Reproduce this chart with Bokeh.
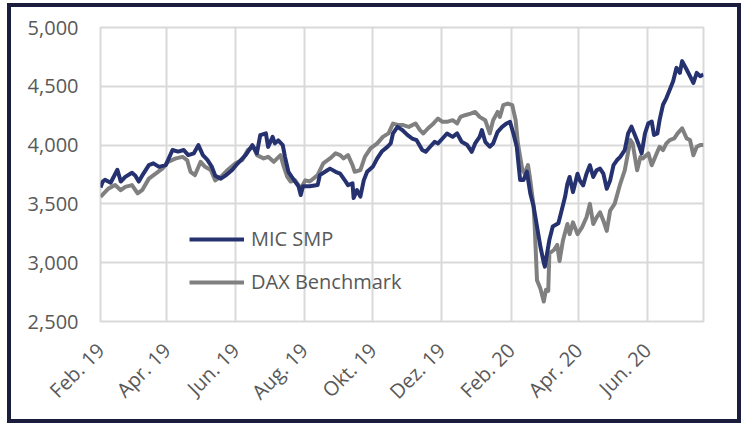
import pandas as pd
from bokeh.plotting import figure
from bokeh.models import (Range1d, FixedTicker, NumeralTickFormatter, Legend, LegendItem)
from bokeh.embed import file_html
from bokeh.resources import INLINE
from math import pi

# ---------------- data ----------------
mic_dates = [
    "2019-02-01", "2019-02-03", "2019-02-05", "2019-02-10", "2019-02-16", "2019-02-19", "2019-02-23",
    "2019-03-01", "2019-03-04", "2019-03-07", "2019-03-10", "2019-03-16", "2019-03-20", "2019-03-25",
    "2019-03-31", "2019-04-06", "2019-04-11", "2019-04-16", "2019-04-20", "2019-04-25", "2019-04-29",
    "2019-05-03", "2019-05-07", "2019-05-11", "2019-05-14", "2019-05-19", "2019-05-23", "2019-05-29",
    "2019-06-03", "2019-06-10", "2019-06-16", "2019-06-20", "2019-06-23", "2019-06-28", "2019-06-30",
    "2019-07-04", "2019-07-06", "2019-07-09", "2019-07-13", "2019-07-15", "2019-07-18", "2019-07-21",
    "2019-07-24", "2019-07-27", "2019-07-29", "2019-07-31", "2019-08-06", "2019-08-13", "2019-08-15",
    "2019-08-22", "2019-08-24", "2019-08-29", "2019-09-02", "2019-09-07", "2019-09-09", "2019-09-13",
    "2019-09-14", "2019-09-17", "2019-09-20", "2019-09-23", "2019-09-26", "2019-10-01", "2019-10-05",
    "2019-10-09", "2019-10-14", "2019-10-17", "2019-10-19", "2019-10-23", "2019-10-27", "2019-11-01",
    "2019-11-05", "2019-11-09", "2019-11-14", "2019-11-17", "2019-11-21", "2019-11-25", "2019-11-28",
    "2019-12-02", "2019-12-06", "2019-12-11", "2019-12-15", "2019-12-19", "2019-12-24", "2019-12-28",
    "2019-12-31", "2020-01-04", "2020-01-06", "2020-01-09", "2020-01-13", "2020-01-16", "2020-01-20",
    "2020-01-24", "2020-01-28", "2020-01-31", "2020-02-03", "2020-02-06", "2020-02-09", "2020-02-12",
    "2020-02-15", "2020-02-18", "2020-02-21", "2020-02-24", "2020-02-27", "2020-03-01", "2020-03-02",
    "2020-03-04", "2020-03-06", "2020-03-09", "2020-03-14", "2020-03-17", "2020-03-20", "2020-03-22",
    "2020-03-24", "2020-03-27", "2020-03-31", "2020-04-02", "2020-04-05", "2020-04-08", "2020-04-11",
    "2020-04-14", "2020-04-17", "2020-04-20", "2020-04-23", "2020-04-26", "2020-04-29", "2020-05-02",
    "2020-05-05", "2020-05-08", "2020-05-12", "2020-05-15", "2020-05-18", "2020-05-21", "2020-05-24",
    "2020-05-27", "2020-05-30", "2020-06-02", "2020-06-05", "2020-06-07", "2020-06-10", "2020-06-12",
    "2020-06-15", "2020-06-18", "2020-06-21", "2020-06-24", "2020-06-27", "2020-06-30", "2020-07-02",
    "2020-07-06", "2020-07-09", "2020-07-12", "2020-07-15", "2020-07-18", "2020-07-21",
]
mic_values = [
    3640, 3690, 3705, 3680, 3790, 3690, 3730,
    3765, 3740, 3690, 3740, 3830, 3845, 3815,
    3830, 3958, 3945, 3958, 3915, 3930, 4000,
    3915, 3875, 3815, 3740, 3715, 3740, 3788,
    3845, 3915, 4000, 3930, 4085, 4100, 3985,
    4070, 4015, 4040, 4000, 3900, 3773, 3730,
    3690, 3650, 3575, 3650, 3650, 3660, 3745,
    3788, 3800, 3773, 3758, 3690, 3660, 3675,
    3550, 3617, 3562, 3700, 3773, 3815, 3887,
    3945, 3985, 4015, 4100, 4155, 4130, 4085,
    4056, 4042, 3958, 3943, 3986, 4028, 4014,
    4056, 4099, 4070, 4099, 4028, 4000, 3943,
    4014, 4070, 4127, 4028, 3986, 4014, 4113,
    4155, 4184, 4198, 4099, 3986, 3703, 3703,
    3774, 3590, 3477, 3308, 3138, 3000, 2966,
    3082, 3194, 3308, 3336, 3449, 3562, 3671,
    3729, 3600, 3757, 3700, 3657, 3757, 3829,
    3729, 3786, 3800, 3757, 3629, 3700, 3829,
    3871, 3900, 3957, 4100, 4157, 4086, 4014,
    3929, 4100, 4186, 4200, 4086, 4100, 4214,
    4343, 4400, 4471, 4543, 4657, 4614, 4714,
    4643, 4586, 4529, 4614, 4586, 4600,
]

dax_dates = [
    "2019-02-01", "2019-02-08", "2019-02-14", "2019-02-19", "2019-02-23", "2019-03-01", "2019-03-06",
    "2019-03-10", "2019-03-16", "2019-03-22", "2019-03-28", "2019-04-02", "2019-04-09", "2019-04-15",
    "2019-04-19", "2019-04-22", "2019-04-26", "2019-05-01", "2019-05-05", "2019-05-10", "2019-05-14",
    "2019-05-19", "2019-05-25", "2019-06-01", "2019-06-07", "2019-06-12", "2019-06-17", "2019-06-20",
    "2019-06-26", "2019-06-30", "2019-07-05", "2019-07-11", "2019-07-14", "2019-07-17", "2019-07-20",
    "2019-07-24", "2019-07-29", "2019-08-02", "2019-08-06", "2019-08-13", "2019-08-18", "2019-08-24",
    "2019-08-29", "2019-09-02", "2019-09-05", "2019-09-09", "2019-09-13", "2019-09-15", "2019-09-20",
    "2019-09-24", "2019-09-29", "2019-10-05", "2019-10-10", "2019-10-15", "2019-10-19", "2019-10-24",
    "2019-10-28", "2019-11-02", "2019-11-08", "2019-11-12", "2019-11-15", "2019-11-19", "2019-11-24",
    "2019-11-28", "2019-12-02", "2019-12-06", "2019-12-11", "2019-12-15", "2019-12-18", "2019-12-22",
    "2019-12-27", "2019-12-31", "2020-01-04", "2020-01-09", "2020-01-13", "2020-01-16", "2020-01-20",
    "2020-01-22", "2020-01-25", "2020-01-29", "2020-02-02", "2020-02-05", "2020-02-07", "2020-02-11",
    "2020-02-13", "2020-02-16", "2020-02-18", "2020-02-21", "2020-02-22", "2020-02-24", "2020-02-27",
    "2020-03-01", "2020-03-03", "2020-03-05", "2020-03-06", "2020-03-10", "2020-03-13", "2020-03-15",
    "2020-03-18", "2020-03-22", "2020-03-24", "2020-03-27", "2020-03-31", "2020-04-04", "2020-04-08",
    "2020-04-11", "2020-04-14", "2020-04-17", "2020-04-20", "2020-04-23", "2020-04-26", "2020-04-29",
    "2020-05-03", "2020-05-08", "2020-05-12", "2020-05-17", "2020-05-19", "2020-05-23", "2020-05-26",
    "2020-05-28", "2020-06-02", "2020-06-05", "2020-06-10", "2020-06-12", "2020-06-15", "2020-06-18",
    "2020-06-21", "2020-06-25", "2020-06-28", "2020-07-02", "2020-07-06", "2020-07-09", "2020-07-12",
    "2020-07-15", "2020-07-18", "2020-07-21",
]
dax_values = [
    3560, 3630, 3660, 3617, 3645, 3660, 3590,
    3617, 3715, 3758, 3800, 3858, 3887, 3900,
    3873, 3773, 3745, 3858, 3815, 3788, 3700,
    3730, 3788, 3845, 3873, 3958, 3985, 3915,
    3887, 3900, 3858, 3915, 3815, 3730, 3690,
    3700, 3630, 3700, 3690, 3745, 3845, 3887,
    3930, 3915, 3887, 3915, 3830, 3773, 3788,
    3900, 3972, 4015, 4070, 4100, 4183, 4170,
    4170, 4155, 4184, 4127, 4099, 4141, 4184,
    4226, 4198, 4198, 4212, 4184, 4240, 4254,
    4268, 4282, 4240, 4212, 4099, 4212, 4282,
    4240, 4339, 4353, 4339, 4212, 4014, 3788,
    3760, 3830, 3703, 3477, 3300, 2850, 2780,
    2670, 2770, 2760, 3080, 3108, 3151, 3014,
    3186, 3329, 3243, 3343, 3243, 3300, 3386,
    3500, 3329, 3386, 3429, 3357, 3271, 3443,
    3500, 3671, 3786, 4043, 4014, 3786, 3900,
    3886, 3929, 3829, 3943, 3986, 3957, 4014,
    4043, 4057, 4100, 4143, 4057, 4043, 3914,
    3986, 4000, 4000,
]

series_names = ["MIC SMP", "DAX Benchmark"]
tick_dates = ["2019-02-01", "2019-04-01", "2019-06-01", "2019-08-01", "2019-10-01",
              "2019-12-01", "2020-02-01", "2020-04-01", "2020-06-01"]
tick_labels = ["Feb. 19", "Apr. 19", "Jun. 19", "Aug. 19", "Okt. 19",
               "Dez. 19", "Feb. 20", "Apr. 20", "Jun. 20"]
y_ticks = [2500, 3000, 3500, 4000, 4500, 5000]
x_start, x_end = "2019-02-01", "2020-07-21"

# ---------------- plot ----------------
def ms(d):
    return pd.Timestamp(d).value / 1e6

FONT = "Open Sans"
LABEL_COLOR = "#595959"
GRID_COLOR = "#d9d9d9"

p = figure(width=734, height=420, output_backend="svg", toolbar_location=None,
           x_axis_type="datetime",
           x_range=Range1d(ms(x_start), ms(x_end)),
           y_range=Range1d(y_ticks[0], y_ticks[-1]),
           min_border_left=89, min_border_right=42, min_border_top=20, min_border_bottom=106,
           styles={"border": "4px solid #1a1e3c", "overflow": "hidden",
                   "margin-left": "7px", "margin-top": "3px"})

p.background_fill_color = "white"
p.border_fill_color = "white"
p.outline_line_color = GRID_COLOR
p.outline_line_width = 2

p.xaxis.ticker = FixedTicker(ticks=[ms(d) for d in tick_dates])
p.xaxis.major_label_overrides = {ms(d): lab for d, lab in zip(tick_dates, tick_labels)}
p.xaxis.major_label_orientation = pi / 4
p.yaxis.ticker = FixedTicker(ticks=y_ticks)
p.yaxis.formatter = NumeralTickFormatter(format="0,0")

for ax in (p.xaxis, p.yaxis):
    ax.axis_line_color = None
    ax.major_tick_line_color = None
    ax.minor_tick_line_color = None
    ax.major_tick_out = 0
    ax.major_tick_in = 0
    ax.major_label_text_font = FONT
    ax.major_label_text_font_size = "20px"
    ax.major_label_text_color = LABEL_COLOR
p.yaxis.major_label_standoff = 22
p.xaxis.major_label_standoff = 25

p.xgrid.grid_line_color = GRID_COLOR
p.ygrid.grid_line_color = GRID_COLOR
p.xgrid.grid_line_width = 2
p.ygrid.grid_line_width = 2

mic_x = pd.to_datetime(mic_dates)
dax_x = pd.to_datetime(dax_dates)
r_dax = p.line(dax_x, dax_values, line_color="#808080", line_width=4, line_join="round")
r_mic = p.line(mic_x, mic_values, line_color="#263270", line_width=4, line_join="round")

legend = Legend(items=[LegendItem(label=series_names[0], renderers=[r_mic]),
                       LegendItem(label=series_names[1], renderers=[r_dax])],
                location=(89, 26), padding=0, margin=0, spacing=16,
                glyph_width=55, glyph_height=20, label_height=20, label_standoff=7,
                label_text_font=FONT, label_text_font_size="20px",
                label_text_color=LABEL_COLOR,
                border_line_color=None, background_fill_alpha=0)
p.add_layout(legend)

open("out.html", "w").write(file_html(p, INLINE))
